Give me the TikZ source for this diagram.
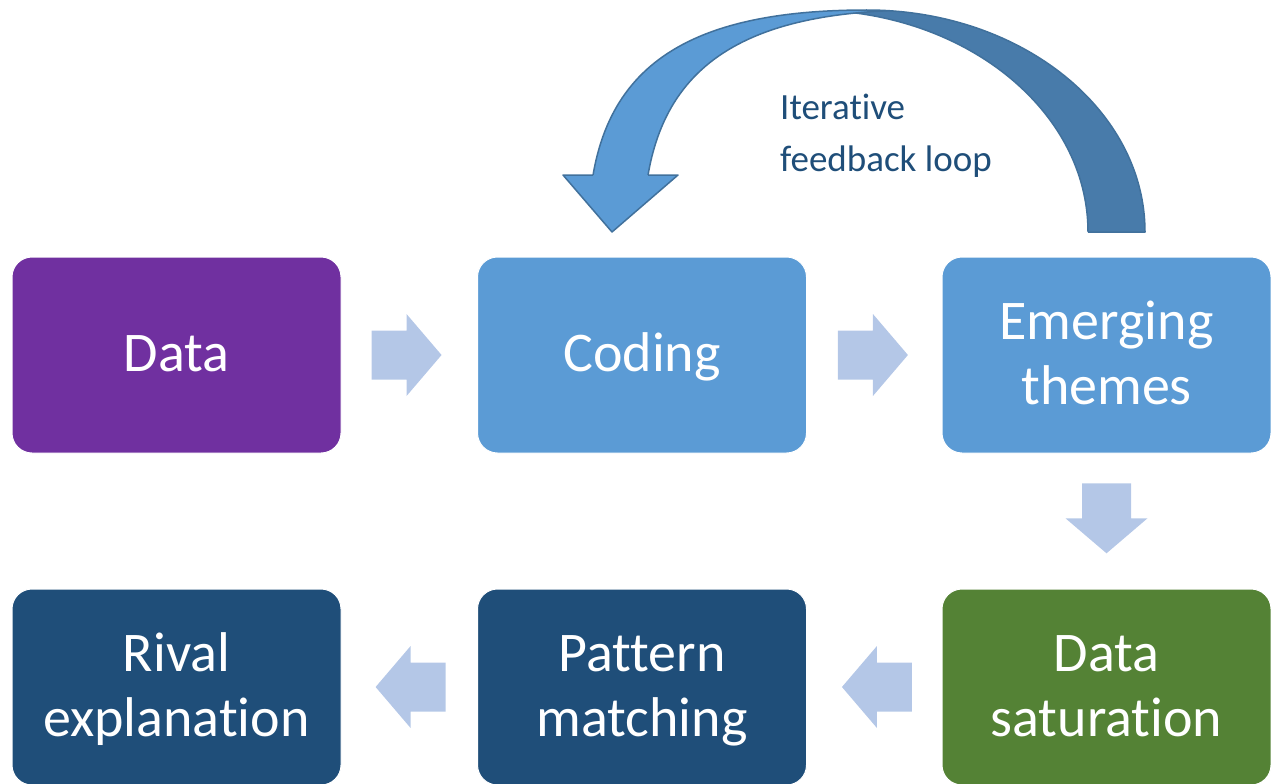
\documentclass[tikz,border=0pt]{standalone}
\usepackage{fontspec}
\setmainfont{Carlito}[Ligatures={NoCommon,NoContextual},Contextuals=NoAlternate]
\definecolor{cpurple}{HTML}{7030A0}
\definecolor{cblue}{HTML}{5B9BD5}
\definecolor{cgreen}{HTML}{548235}
\definecolor{cnavy}{HTML}{1F4E79}
\definecolor{carrow}{HTML}{B4C7E7}
\definecolor{cloopdark}{HTML}{487BAA}
\definecolor{cloopedge}{HTML}{41719C}
\newcommand\bstrut{\rule[-10pt]{0pt}{53pt}}
\newcommand\nolig{\kern0pt }
\begin{document}
\begin{tikzpicture}[x=1pt,y=-1pt,
  box/.style={rectangle, rounded corners=20pt, draw=white, line width=1pt,
    minimum width=329pt, minimum height=196pt, inner sep=0pt, text=white,
    align=center, font=\fontsize{56}{65}\selectfont},
  loopedge/.style={draw=cloopedge, line width=1.5pt, line join=round},
  pics/barrow/.style={code={
    \fill[carrow] (-35,-24.5) -- (0,-24.5) -- (0,-41) -- (35,0) -- (0,41) -- (0,24.5) -- (-35,24.5) -- cycle;}}
]
\useasboundingbox (0,0) rectangle (1271,784);

% boxes
\node[box, fill=cpurple] (data)    at (176.5,355)  {\bstrut Data};
\node[box, fill=cblue]   (coding)  at (642,355)    {\bstrut Coding};
\node[box, fill=cblue]   (themes)  at (1106.5,355) {\bstrut Emerging\\\bstrut themes};
\node[box, fill=cnavy]   (rival)   at (176.5,687)  {\bstrut Rival\\\bstrut explanat\nolig ion};
\node[box, fill=cnavy]   (pattern) at (642,687)    {\bstrut Pattern\\\bstrut matching};
\node[box, fill=cgreen]  (sat)     at (1106.5,687) {\bstrut Data\\\bstrut saturat\nolig ion};

% block arrows between boxes
\path (data.east) -- (coding.west) coordinate[pos=0.48] (m1);
\path (coding.east) -- (themes.west) coordinate[pos=0.49] (m2);
\path (themes.south) -- (sat.north) coordinate[pos=0.48] (m3);
\path (sat.west) -- (pattern.east) coordinate[pos=0.48] (m4);
\path (pattern.west) -- (rival.east) coordinate[pos=0.49] (m5);
\pic at (m1) {barrow};
\pic at (m2) {barrow};
\pic[rotate=-90] at (m3) {barrow};
\pic[rotate=180] at (m4) {barrow};
\pic[rotate=180] at (m5) {barrow};

% curved feedback arrow
\begin{scope}
  % outer envelope of the loop
  \clip (588.6,232) .. controls (588.6,76.6) and (672.1,10) .. (866.8,10)
        .. controls (1020.4,10) and (1145,109.5) .. (1145,232) -- cycle;
  % back (dark) band
  \fill[cloopdark]
    (809.8,10) -- (866.8,10) .. controls (1020.4,10) and (1145,109.5) .. (1145,232)
    -- (1088,232) .. controls (1088,109.5) and (963.4,10) .. (809.8,10) -- cycle;
  \draw[loopedge] (809.8,10) .. controls (963.4,10) and (1088,109.5) .. (1088,232);
  % front (light) band
  \begin{scope}
    \clip (0,0) rectangle (1000,175);
    \fill[cblue]
      (921.8,10) -- (866.8,10) .. controls (672.1,10) and (588.6,76.6) .. (588.6,232)
      -- (643.6,232) .. controls (643.6,76.6) and (727.1,10) .. (921.8,10) -- cycle;
    \draw[loopedge] (921.8,10) .. controls (727.1,10) and (643.6,76.6) .. (643.6,232);
  \end{scope}
\end{scope}
% outer edge and tail end
\begin{scope}
  \clip (0,0) rectangle (1271,175) (700,175) rectangle (1271,240);
  \draw[loopedge] (588.6,232) .. controls (588.6,76.6) and (672.1,10) .. (866.8,10)
        .. controls (1020.4,10) and (1145,109.5) .. (1145,232) -- (1088,232);
\end{scope}
% arrow head
\fill[cblue] (563,175) -- (678,175) -- (612,232) -- cycle;
\draw[loopedge] (593.1,175) -- (563,175) -- (612,232) -- (678,175) -- (648.1,175);

\node[anchor=north west, inner sep=0pt, align=left, text=cnavy,
  font=\fontsize{37}{52}\selectfont] (loop) at (780,94) {Iterat\nolig ive\\feedback loop};
\end{tikzpicture}
\end{document}
